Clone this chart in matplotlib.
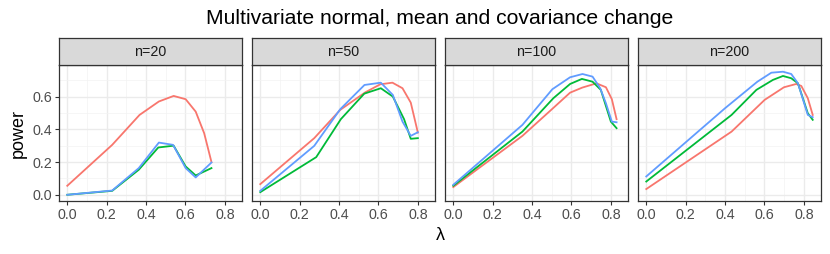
import matplotlib
matplotlib.use("Agg")
import matplotlib.pyplot as plt
from matplotlib.ticker import MultipleLocator, FormatStrFormatter

plt.rcParams['font.family'] = ['Liberation Sans', 'DejaVu Sans']

panels = ["n=20", "n=50", "n=100", "n=200"]
colors = ["#F8766D", "#00BA38", "#619CFF"]

# (lambda, power) per panel, per series: red, green, blue
red_x = [
    [0.0, 0.228, 0.367, 0.465, 0.54, 0.601, 0.652, 0.695, 0.732],
    [0.0, 0.274, 0.406, 0.533, 0.609, 0.671, 0.722, 0.764, 0.80],
    [0.0, 0.351, 0.50, 0.593, 0.655, 0.727, 0.775, 0.805, 0.829],
    [0.0, 0.433, 0.601, 0.699, 0.761, 0.787, 0.82, 0.845],
]
red_y = [
    [0.055, 0.305, 0.488, 0.57, 0.604, 0.584, 0.508, 0.376, 0.20],
    [0.065, 0.346, 0.519, 0.626, 0.675, 0.685, 0.651, 0.563, 0.38],
    [0.047, 0.36, 0.522, 0.624, 0.655, 0.681, 0.657, 0.584, 0.462],
    [0.035, 0.386, 0.58, 0.657, 0.677, 0.665, 0.59, 0.488],
]
green_x = [
    [0.0, 0.228, 0.363, 0.462, 0.54, 0.601, 0.652, 0.732],
    [0.0, 0.284, 0.409, 0.528, 0.612, 0.673, 0.73, 0.764, 0.80],
    [0.0, 0.351, 0.508, 0.593, 0.653, 0.707, 0.749, 0.80, 0.829],
    [0.0, 0.433, 0.559, 0.643, 0.694, 0.736, 0.77, 0.82, 0.845],
]
green_y = [
    [0.0, 0.024, 0.153, 0.289, 0.30, 0.173, 0.118, 0.163],
    [0.016, 0.23, 0.462, 0.618, 0.651, 0.60, 0.462, 0.342, 0.346],
    [0.055, 0.386, 0.59, 0.677, 0.708, 0.691, 0.641, 0.447, 0.407],
    [0.081, 0.488, 0.641, 0.702, 0.726, 0.712, 0.681, 0.498, 0.458],
]
blue_x = [
    [0.0, 0.228, 0.363, 0.465, 0.537, 0.601, 0.652, 0.732],
    [0.0, 0.274, 0.406, 0.529, 0.612, 0.673, 0.722, 0.764, 0.80],
    [0.0, 0.351, 0.503, 0.593, 0.656, 0.707, 0.746, 0.775, 0.805, 0.829],
    [0.0, 0.40, 0.564, 0.635, 0.694, 0.736, 0.77, 0.82, 0.845],
]
blue_y = [
    [0.0, 0.026, 0.163, 0.319, 0.305, 0.163, 0.106, 0.197],
    [0.024, 0.299, 0.523, 0.671, 0.685, 0.61, 0.447, 0.36, 0.382],
    [0.061, 0.427, 0.645, 0.718, 0.738, 0.722, 0.651, 0.559, 0.447, 0.443],
    [0.112, 0.529, 0.691, 0.746, 0.752, 0.738, 0.681, 0.488, 0.474],
]

W, H = 830, 254
fig = plt.figure(figsize=(W / 100, H / 100), dpi=100)

pw, gap = 183, 10
left0 = 59
ptop, pbot = 65, 201
stop = 38

for i, name in enumerate(panels):
    x0 = left0 + i * (pw + gap)
    ax = fig.add_axes([x0 / W, 1 - pbot / H, pw / W, (pbot - ptop) / H])
    for xs, ys, c in zip((red_x, green_x, blue_x), (red_y, green_y, blue_y), colors):
        ax.plot(xs[i], ys[i], color=c, lw=1.3)
    ax.set_xlim(-0.042, 0.887)
    ax.set_ylim(-0.038, 0.793)
    ax.xaxis.set_minor_locator(MultipleLocator(0.1))
    ax.yaxis.set_minor_locator(MultipleLocator(0.1))
    ax.set_yticks([0.0, 0.2, 0.4, 0.6])
    ax.set_xticks([0.0, 0.2, 0.4, 0.6, 0.8])
    ax.xaxis.set_major_formatter(FormatStrFormatter('%.1f'))
    ax.yaxis.set_major_formatter(FormatStrFormatter('%.1f'))
    ax.grid(True, which='major', color='#EBEBEB', lw=1.0)
    ax.grid(True, which='minor', color='#F3F3F3', lw=0.5)
    ax.set_axisbelow(True)
    ax.tick_params(which='minor', length=0)
    ax.tick_params(which='major', length=2.7, width=0.8, color='#333333',
                   labelsize=10.3, labelcolor='#4D4D4D', pad=2)
    for s in ax.spines.values():
        s.set_color('#333333')
        s.set_linewidth(0.9)
    if i > 0:
        ax.tick_params(axis='y', labelleft=False, length=0)

    sax = fig.add_axes([x0 / W, 1 - ptop / H, pw / W, (ptop - stop) / H])
    sax.set_facecolor('#D9D9D9')
    sax.set_xticks([])
    sax.set_yticks([])
    for s in sax.spines.values():
        s.set_color('#333333')
        s.set_linewidth(0.9)
    sax.text(0.5, 0.5, name, ha='center', va='center', fontsize=10.3,
             color='#1A1A1A', transform=sax.transAxes)

fig.text(440 / W, 1 - 18 / H, "Multivariate normal, mean and covariance change",
         ha='center', va='center', fontsize=15.2)
fig.text(18 / W, 1 - 133 / H, "power", ha='center', va='center', fontsize=13,
         rotation=90)
fig.text(440 / W, 1 - 236 / H, "λ", ha='center', va='center', fontsize=13)

fig.savefig("out.png", dpi=100)
